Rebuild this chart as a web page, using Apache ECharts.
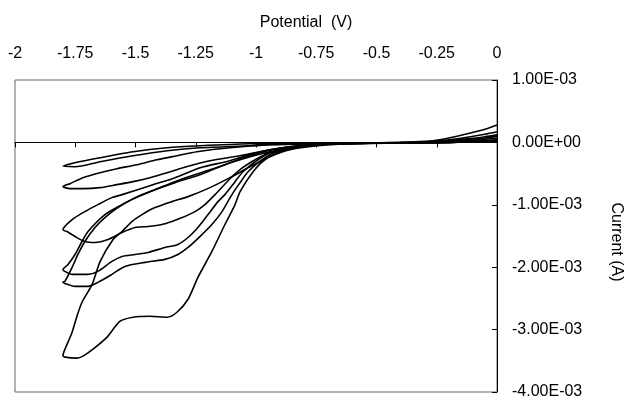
<!DOCTYPE html>
<html>
<head>
<meta charset="utf-8">
<script src="https://cdn.jsdelivr.net/npm/echarts@6/dist/echarts.min.js"></script>
<style>
html,body{margin:0;padding:0;background:#fff;}
#chart{width:626px;height:400px;}
</style>
</head>
<body>
<div id="chart"></div>
<script>
// Potential (V) vs current (mA) for six cyclic voltammetry scans, each a closed loop
const xTitle = 'Potential  (V)';
const yTitle = 'Current (A)';
const potentialMin = -2, potentialMax = 0, potentialStep = 0.25;
const currentMin = -0.004, currentMax = 0.001, currentStep = 0.001;

const scan1 = [[0,0.04],[-0.1,0.02],[-0.2,0.005],[-0.4,-0.005],[-0.7,-0.01],[-0.9,-0.03],[-1.025,-0.054],[-1.232,-0.086],[-1.369,-0.134],[-1.51,-0.214],[-1.647,-0.31],[-1.751,-0.39],[-1.801,-0.38],[-1.751,-0.326],[-1.647,-0.246],[-1.51,-0.15],[-1.369,-0.086],[-1.232,-0.054],[-1.025,-0.022],[-0.7,-0.01],[-0.3,0],[-0.1,0.01],[0,0.02]];

const scan2 = [[0,0.07],[-0.05,0.05],[-0.11,0.03],[-0.2,0.01],[-0.4,-0.005],[-0.7,-0.02],[-0.817,-0.054],[-0.942,-0.118],[-1.066,-0.214],[-1.191,-0.294],[-1.303,-0.406],[-1.369,-0.486],[-1.44,-0.565],[-1.51,-0.629],[-1.577,-0.677],[-1.647,-0.725],[-1.718,-0.741],[-1.772,-0.741],[-1.801,-0.709],[-1.772,-0.661],[-1.718,-0.565],[-1.647,-0.486],[-1.577,-0.422],[-1.494,-0.358],[-1.411,-0.278],[-1.328,-0.214],[-1.245,-0.15],[-1.108,-0.086],[-0.942,-0.038],[-0.7,-0.02],[-0.5,-0.01],[-0.2,0],[0,0.03]];

const scan3 = [[0,0.1],[-0.05,0.07],[-0.11,0.05],[-0.2,0.02],[-0.3,0],[-0.5,-0.01],[-0.7,-0.03],[-0.817,-0.07],[-0.942,-0.166],[-1.025,-0.326],[-1.087,-0.502],[-1.17,-0.837],[-1.212,-0.997],[-1.253,-1.109],[-1.307,-1.205],[-1.349,-1.268],[-1.39,-1.316],[-1.448,-1.348],[-1.502,-1.364],[-1.556,-1.444],[-1.614,-1.556],[-1.668,-1.604],[-1.71,-1.588],[-1.751,-1.508],[-1.784,-1.428],[-1.801,-1.4],[-1.763,-1.237],[-1.71,-1.109],[-1.656,-0.997],[-1.598,-0.885],[-1.556,-0.837],[-1.44,-0.693],[-1.336,-0.565],[-1.232,-0.406],[-1.108,-0.294],[-0.983,-0.15],[-0.859,-0.07],[-0.7,-0.03],[-0.5,-0.01],[-0.2,0],[0,0.03]];

const scan4 = [[0,0.12],[-0.05,0.09],[-0.11,0.06],[-0.2,0.03],[-0.28,0.005],[-0.5,-0.01],[-0.7,-0.03],[-0.797,-0.054],[-0.913,-0.118],[-0.992,-0.278],[-1.054,-0.47],[-1.087,-0.629],[-1.129,-0.837],[-1.158,-0.949],[-1.199,-1.157],[-1.241,-1.364],[-1.282,-1.524],[-1.324,-1.636],[-1.378,-1.684],[-1.448,-1.764],[-1.502,-1.796],[-1.556,-1.827],[-1.598,-1.907],[-1.656,-2.067],[-1.697,-2.115],[-1.763,-2.115],[-1.793,-2.067],[-1.801,-2.04],[-1.78,-1.955],[-1.751,-1.796],[-1.722,-1.588],[-1.697,-1.428],[-1.627,-1.157],[-1.556,-0.997],[-1.502,-0.885],[-1.419,-0.757],[-1.315,-0.597],[-1.191,-0.438],[-1.066,-0.278],[-0.942,-0.15],[-0.817,-0.07],[-0.7,-0.03],[-0.5,-0.01],[-0.2,0],[0,0.02]];

const scan5 = [[0,0.17],[-0.05,0.13],[-0.11,0.09],[-0.2,0.04],[-0.28,0.01],[-0.5,-0.01],[-0.7,-0.03],[-0.797,-0.054],[-0.9,-0.118],[-0.975,-0.278],[-1.033,-0.47],[-1.066,-0.645],[-1.1,-0.837],[-1.141,-1.109],[-1.183,-1.316],[-1.224,-1.476],[-1.282,-1.684],[-1.324,-1.796],[-1.378,-1.875],[-1.461,-1.923],[-1.544,-1.987],[-1.598,-2.115],[-1.656,-2.243],[-1.697,-2.307],[-1.751,-2.307],[-1.793,-2.26],[-1.801,-2.24],[-1.793,-2.227],[-1.763,-2.003],[-1.739,-1.796],[-1.71,-1.588],[-1.668,-1.364],[-1.627,-1.205],[-1.573,-1.045],[-1.515,-0.917],[-1.44,-0.789],[-1.336,-0.645],[-1.232,-0.518],[-1.108,-0.326],[-0.983,-0.166],[-0.859,-0.07],[-0.7,-0.03],[-0.5,-0.01],[-0.2,0],[0,0.02]];

const scan6 = [[0,0.28],[-0.05,0.21],[-0.11,0.15],[-0.2,0.07],[-0.28,0.02],[-0.4,0],[-0.55,-0.01],[-0.68,-0.02],[-0.776,-0.054],[-0.884,-0.118],[-0.963,-0.278],[-1.012,-0.47],[-1.066,-0.789],[-1.087,-0.997],[-1.129,-1.316],[-1.183,-1.748],[-1.241,-2.163],[-1.282,-2.514],[-1.328,-2.722],[-1.369,-2.802],[-1.44,-2.786],[-1.51,-2.802],[-1.564,-2.866],[-1.618,-3.121],[-1.676,-3.313],[-1.718,-3.425],[-1.743,-3.457],[-1.793,-3.441],[-1.801,-3.42],[-1.78,-3.201],[-1.763,-3.042],[-1.743,-2.786],[-1.722,-2.562],[-1.68,-2.275],[-1.647,-1.91],[-1.593,-1.556],[-1.556,-1.428],[-1.515,-1.268],[-1.473,-1.157],[-1.419,-1.045],[-1.349,-0.949],[-1.282,-0.869],[-1.191,-0.725],[-1.108,-0.565],[-1.025,-0.39],[-0.942,-0.23],[-0.859,-0.118],[-0.734,-0.05],[-0.6,-0.02],[-0.4,-0.01],[-0.2,0],[0,0.03]];

const scans = [scan1, scan2, scan3, scan4, scan5, scan6];
const mA = 1e-3;

const FONT = '"Liberation Sans", Arial, sans-serif';

function sci(v) {
  if (Math.abs(v) < 1e-12) v = 0;
  const s = v.toExponential(2);
  const parts = s.split('e');
  const sign = parts[1][0];
  const digits = parts[1].slice(1).padStart(2, '0');
  return parts[0] + 'E' + sign + digits;
}

const chart = echarts.init(document.getElementById('chart'), null, {renderer: 'canvas'});
chart.setOption({
  animation: false,
  backgroundColor: '#fff',
  grid: {left: 15, right: 129, top: 80, bottom: 7, show: true, borderColor: '#666', borderWidth: 1},
  graphic: [
    {type: 'text', x: 306, y: 23, style: {text: xTitle, font: '16px ' + FONT, fill: '#000', align: 'center', verticalAlign: 'middle', textAlign: 'center', textVerticalAlign: 'middle'}},
    {type: 'text', x: 616, y: 242, rotation: -Math.PI / 2, style: {text: yTitle, font: '16px ' + FONT, fill: '#000', align: 'center', verticalAlign: 'middle', textAlign: 'center', textVerticalAlign: 'middle'}}
  ],
  xAxis: [
    {type: 'value', position: 'top', min: potentialMin, max: potentialMax, interval: potentialStep,
     axisLine: {show: false, onZero: false}, axisTick: {show: false}, splitLine: {show: false},
     axisLabel: {margin: 18, fontSize: 16, fontFamily: FONT, color: '#000', showMinLabel: true, showMaxLabel: true}},
    {type: 'value', position: 'bottom', min: potentialMin, max: potentialMax, interval: potentialStep,
     axisLine: {show: true, onZero: true, lineStyle: {color: '#000', width: 1}},
     axisTick: {show: true, length: 5, lineStyle: {color: '#000'}},
     axisLabel: {show: false}, splitLine: {show: false}}
  ],
  yAxis: {type: 'value', position: 'right', min: currentMin, max: currentMax, interval: currentStep,
    axisLine: {show: true, onZero: false, lineStyle: {color: '#000', width: 1}},
    axisTick: {show: true, inside: true, length: 5, lineStyle: {color: '#000'}},
    axisLabel: {margin: 15, fontSize: 16, fontFamily: FONT, color: '#000', formatter: sci},
    splitLine: {show: false}},
  series: scans.map(function (s) {
    return {
      type: 'line', xAxisIndex: 0, yAxisIndex: 0,
      data: s.map(function (p) { return [p[0], p[1] * mA]; }),
      showSymbol: false, smooth: 0.25,
      lineStyle: {color: '#000', width: 1.6},
      silent: true
    };
  })
});
</script>
</body>
</html>
